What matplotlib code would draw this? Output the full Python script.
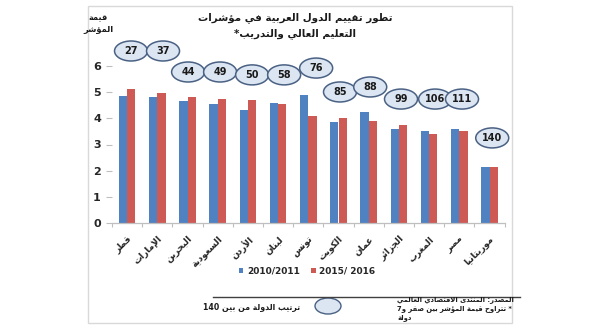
import re
import matplotlib
matplotlib.use("Agg")
import matplotlib.pyplot as plt
from matplotlib.patches import Ellipse, Rectangle, Patch
from matplotlib.lines import Line2D
import numpy as np

# ---------------- data ----------------
countries = ["قطر", "الإمارات", "البحرين", "السعودية", "الأردن", "لبنان", "تونس",
             "الكويت", "عمان", "الجزائر", "المغرب", "مصر", "موريتانيا"]
score_2010 = [4.83, 4.79, 4.64, 4.55, 4.32, 4.58, 4.88, 3.86, 4.22, 3.59, 3.50, 3.59, 2.14]
score_2015 = [5.10, 4.95, 4.82, 4.72, 4.69, 4.56, 4.10, 4.01, 3.90, 3.74, 3.41, 3.52, 2.14]
ranks = [27, 37, 44, 49, 50, 58, 76, 85, 88, 99, 106, 111, 140]
series_labels = ["2010/2011", "2015/ 2016"]
yticks = [0, 1, 2, 3, 4, 5, 6]

title_lines = ["تطور تقييم الدول العربية في مؤشرات", "التعليم العالي والتدريب*"]
ytitle_lines = ["قيمة", "المؤشر"]
rank_legend = "ترتيب الدولة من بين 140"
source_lines = ["المصدر: المنتدى الاقتصادي العالمي",
                "* تتراوح قيمة المؤشر بين صفر و7",
                "دولة"]

# annotation layout (rank bubble placement, in category / value units)
rank_dx = [0.13, 0.19, 0.02, 0.08, 0.14, 0.20, 0.26, 0.05, 0.05, 0.07, 0.20, 0.09, 0.09]
rank_y = [6.56, 6.56, 5.76, 5.76, 5.65, 5.65, 5.91, 5.00, 5.19, 4.73, 4.73, 4.73, 3.25]

# ---------------- Arabic shaping (contextual forms + RTL order) ----------------
DUAL = {'ئ': 0xFE89, 'ب': 0xFE8F, 'ت': 0xFE95, 'ث': 0xFE99, 'ج': 0xFE9D, 'ح': 0xFEA1,
        'خ': 0xFEA5, 'س': 0xFEB1, 'ش': 0xFEB5, 'ص': 0xFEB9, 'ض': 0xFEBD, 'ط': 0xFEC1,
        'ظ': 0xFEC5, 'ع': 0xFEC9, 'غ': 0xFECD, 'ف': 0xFED1, 'ق': 0xFED5, 'ك': 0xFED9,
        'ل': 0xFEDD, 'م': 0xFEE1, 'ن': 0xFEE5, 'ه': 0xFEE9, 'ي': 0xFEF1}
RIGHT = {'آ': 0xFE81, 'أ': 0xFE83, 'ؤ': 0xFE85, 'إ': 0xFE87, 'ا': 0xFE8D, 'ة': 0xFE93,
         'د': 0xFEA9, 'ذ': 0xFEAB, 'ر': 0xFEAD, 'ز': 0xFEAF, 'و': 0xFEED, 'ى': 0xFEEF}
LAMALEF = {'آ': 0xFEF5, 'أ': 0xFEF7, 'إ': 0xFEF9, 'ا': 0xFEFB}


def ar(s):
    if not any('\u0600' <= c <= '\u06FF' for c in s):
        return s
    out = []
    i, n = 0, len(s)
    while i < n:
        c = s[i]
        prev = s[i - 1] if i > 0 else ''
        nxt = s[i + 1] if i + 1 < n else ''
        jp = prev in DUAL
        if c == 'ل' and nxt in LAMALEF:
            out.append(chr(LAMALEF[nxt] + (1 if jp else 0)))
            i += 2
            continue
        if c in DUAL:
            jn = (nxt in DUAL) or (nxt in RIGHT)
            off = 3 if (jp and jn) else 1 if jp else 2 if jn else 0
            out.append(chr(DUAL[c] + off))
        elif c in RIGHT:
            out.append(chr(RIGHT[c] + (1 if jp else 0)))
        else:
            out.append(c)
        i += 1
    tokens = re.findall(r'[0-9A-Za-z.]+|.', ''.join(out), flags=re.S)
    return ''.join(reversed(tokens))


plt.rcParams['font.family'] = ['DejaVu Sans']

W, H = 600, 330
fig = plt.figure(figsize=(W / 100, H / 100), dpi=100)
fig.patch.set_facecolor('white')


def fx(px):
    return px / W


def fy(py):
    return 1 - py / H


# outer frame
fig.add_artist(Rectangle((fx(88), fy(323)), fx(512) - fx(88), fy(6) - fy(323),
                         transform=fig.transFigure, fill=False, edgecolor='#d9d9d9', lw=1))

ax_l, ax_r, ax_b, ax_t = 112, 504.6, 223.3, 65.7
ax = fig.add_axes([fx(ax_l), fy(ax_b), (ax_r - ax_l) / W, (ax_b - ax_t) / H])

x = np.arange(len(countries))
bw = 0.275
blue = '#5081c0'
red = '#cd5a55'
ax.bar(x - bw / 2, score_2010, bw, color=blue, label=series_labels[0])
ax.bar(x + bw / 2, score_2015, bw, color=red, label=series_labels[1])

ax.set_xlim(-0.5, len(countries) - 0.5)
ax.set_ylim(0, 6)
ax.set_yticks(yticks)
ax.set_yticklabels([str(t) for t in yticks], fontsize=8, fontweight='bold', color='#262626')
ax.tick_params(axis='y', length=4, color='#bfbfbf', width=0.8, pad=4)
ax.set_xticks(x)
ax.set_xticklabels([ar(c) for c in countries], rotation=45, ha='right',
                   rotation_mode='anchor', fontsize=6.5, fontweight='bold', color='#262626')
ax.tick_params(axis='x', length=0, pad=8)
ax.set_xticks(np.arange(-0.5, len(countries), 1), minor=True)
ax.tick_params(axis='x', which='minor', length=3, color='#bfbfbf', width=0.8)
for s in ['top', 'right', 'left']:
    ax.spines[s].set_visible(False)
ax.spines['bottom'].set_color('#bfbfbf')
ax.spines['bottom'].set_linewidth(0.9)
ax.patch.set_alpha(0)

# rank bubbles
px_per_x = (ax_r - ax_l) / len(countries)
px_per_y = (ax_b - ax_t) / 6
ew, eh = 33 / px_per_x, 20 / px_per_y
for i, r in enumerate(ranks):
    cx, cy = x[i] + rank_dx[i], rank_y[i]
    ax.add_patch(Ellipse((cx, cy), ew, eh, facecolor='#dce6f2', edgecolor='#4a6184',
                         lw=1.1, clip_on=False, zorder=5))
    ax.text(cx, cy, str(r), ha='center', va='center', fontsize=7, fontweight='bold',
            color='#1a1a1a', zorder=6, clip_on=False)

# legend
handles = [Patch(facecolor=blue), Patch(facecolor=red)]
fig.legend(handles, series_labels, loc='center', bbox_to_anchor=(fx(307), fy(271)),
           ncol=2, frameon=False, handlelength=0.55, handleheight=0.55, handletextpad=0.4,
           columnspacing=1.2, prop={'size': 6.5, 'weight': 'bold'}, labelcolor='#262626')

# title
for k, line in enumerate(title_lines):
    fig.text(fx(295), fy(18 + 16 * k), ar(line), ha='center', va='center',
             fontsize=7.4, fontweight='bold', color='#1a1a1a')

# y title
for k, line in enumerate(ytitle_lines):
    fig.text(fx(98), fy(18 + 11 * k), ar(line), ha='center', va='center',
             fontsize=6, fontweight='bold', color='#1a1a1a')

# bottom key
fig.add_artist(Line2D([fx(213), fx(520)], [fy(297), fy(297)], transform=fig.transFigure,
                      color='#404040', lw=1))
fig.add_artist(Ellipse((fx(328), fy(306)), 26 / W, 16 / H, transform=fig.transFigure,
                       facecolor='#dce6f2', edgecolor='#4a6184', lw=1))
fig.text(fx(300), fy(307), ar(rank_legend), ha='right', va='center', fontsize=5.6,
         fontweight='bold', color='#1a1a1a')
for k, line in enumerate(source_lines):
    fig.text(fx(397), fy(300 + 9 * k), ar(line), ha='left', va='center', fontsize=4.9,
             fontweight='bold', color='#1a1a1a')

fig.savefig('out.png', dpi=100, facecolor='white')
